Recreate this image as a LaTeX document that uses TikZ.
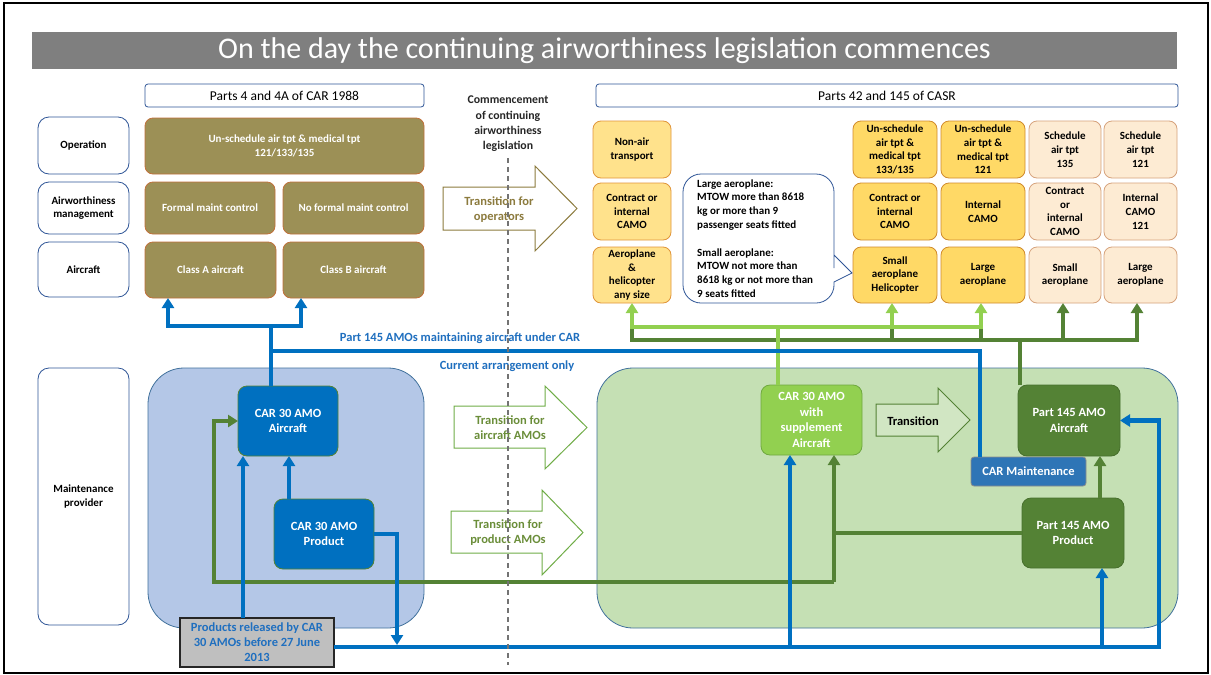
\documentclass[tikz,border=0pt]{standalone}
\usepackage{fontspec}
\setmainfont{Carlito}
\usetikzlibrary{arrows.meta,calc}
\definecolor{ttl}{HTML}{7F7F7F}
\definecolor{lblue}{HTML}{2F5597}
\definecolor{olv}{HTML}{9C9056}
\definecolor{olvb}{HTML}{C0703A}
\definecolor{nac}{HTML}{FFE28C}
\definecolor{nacb}{HTML}{E0953A}
\definecolor{abf}{HTML}{FFD966}
\definecolor{abb}{HTML}{D08A2B}
\definecolor{cdf}{HTML}{FDEBD3}
\definecolor{cdb}{HTML}{D6A27C}
\definecolor{bregf}{HTML}{B4C7E7}
\definecolor{gregf}{HTML}{C5E0B4}
\definecolor{regb}{HTML}{41719C}
\definecolor{cblue}{HTML}{0070C0}
\definecolor{lgr}{HTML}{92D050}
\definecolor{lgrb}{HTML}{6FA83F}
\definecolor{dgr}{HTML}{548235}
\definecolor{dgrb}{HTML}{476F2D}
\definecolor{cmaint}{HTML}{2E75B6}
\definecolor{optxt}{HTML}{8C7B3E}
\definecolor{amotxt}{HTML}{6B8E3A}
\definecolor{amob}{HTML}{70AD47}
\definecolor{labtxt}{HTML}{1F6FBF}
\newcommand\mybox[7]{\node[#6,minimum width={(#4-#2)*1pt},minimum height={(#5-#3)*1pt}] (#1) at ({(#2+#4)/2},{(#3+#5)/2}) {#7};}
\tikzset{
  base/.style={inner sep=0pt,outer sep=0pt,align=center,font=\fontsize{11}{13.7}\selectfont\bfseries,rounded corners=8pt,line width=0.8pt},
  lbl/.style={base,draw=lblue,fill=white,text=black,rounded corners=11pt},
  hdr/.style={base,draw=lblue,fill=white,text=black,rounded corners=3pt,font=\fontsize{13.5}{16}\selectfont},
  olvbox/.style={base,draw=olvb,fill=olv,text=white},
  nabox/.style={base,draw=nacb,fill=nac,text=black},
  abbox/.style={base,draw=abb,fill=abf,text=black},
  cdbox/.style={base,draw=cdb,fill=cdf,text=black},
  region/.style={base,draw=regb,rounded corners=36pt},
  mbox/.style={base,text=white,rounded corners=9pt,font=\fontsize{12.5}{15.5}\selectfont\bfseries},
  bl/.style={draw=cblue,line width=4.6pt},
  lg/.style={draw=lgr,line width=4.6pt},
  dg/.style={draw=dgr,line width=4.6pt},
  trarrow/.style={line width=1pt,fill=white,line join=miter},
  trtext/.style={align=center,font=\fontsize{12.5}{15}\selectfont\bfseries,inner sep=0pt}
}
\begin{document}
\begin{tikzpicture}[x=1pt,y=-1pt,>={Triangle[width=12pt,length=10pt]}]
\useasboundingbox (0,0) rectangle (1211,675);
\fill[white] (0,0) rectangle (1211,675);
\draw[line width=1.5pt,black] (4,3) rectangle (1208,673);
% title
\fill[ttl] (32,32) rectangle (1177,69);
\node[text=white,font=\fontsize{30}{34}\selectfont,inner sep=0pt] (title) at (604.5,50.5) {On the day the continuing airworthiness legislation commences};
% headers
\mybox{p4}{145}{84}{424}{107}{hdr}{Parts 4 and 4A of CAR 1988}
\mybox{p42}{596}{84}{1178}{107}{hdr}{Parts 42 and 145 of CASR}
% row labels
\mybox{opl}{38}{117}{129}{174}{lbl}{Operation}
\mybox{awl}{38}{182}{129}{234}{lbl}{Airworthiness\\management}
\mybox{acl}{38}{242}{129}{297}{lbl}{Aircraft}
\mybox{mpl}{38}{368}{129}{625}{lbl}{Maintenance\\provider}
% olive boxes
\mybox{unsch}{145}{118}{424}{174}{olvbox}{Un-schedule air tpt \& medical tpt\\121/133/135}
\mybox{fmc}{145}{182}{275}{234}{olvbox}{Formal maint control}
\mybox{nfmc}{283}{182}{424}{234}{olvbox}{No formal maint control}
\mybox{clsa}{145}{242}{276}{298}{olvbox}{Class A aircraft}
\mybox{clsb}{283}{242}{424}{298}{olvbox}{Class B aircraft}
% commencement
\node[align=center,font=\fontsize{11.8}{15.3}\selectfont\bfseries,text=black!85,inner sep=0pt] (comm) at (508,124) {Commencement\\of continuing\\airworthiness\\legislation};
% transition for operators
\draw[trarrow,draw=optxt] (443,187) -- (535,187) -- (535,166) -- (577,208.5) -- (535,251) -- (535,230) -- (443,230) -- cycle;
\node[trtext,text=optxt] (trop) at (499,210) {Transition for\\operators};
% right top boxes
\mybox{na1}{593}{121}{671}{178}{nabox}{Non-air\\transport}
\mybox{na2}{593}{183}{671}{240}{nabox}{Contract or\\internal\\CAMO}
\mybox{na3}{593}{247}{671}{303}{nabox}{Aeroplane\\\&\\helicopter\\any size}
\mybox{sa1}{853}{121}{937}{178}{abbox}{Un-schedule\\air tpt \&\\medical tpt\\133/135}
\mybox{sa2}{853}{183}{937}{240}{abbox}{Contract or\\internal\\CAMO}
\mybox{sa3}{853}{247}{937}{303}{abbox}{Small\\aeroplane\\Helicopter}
\mybox{sb1}{941}{121}{1025}{178}{abbox}{Un-schedule\\air tpt \&\\medical tpt\\121}
\mybox{sb2}{941}{183}{1025}{240}{abbox}{Internal\\CAMO}
\mybox{sb3}{941}{247}{1025}{303}{abbox}{Large\\aeroplane}
\mybox{sc1}{1029}{121}{1101}{178}{cdbox}{Schedule\\air tpt\\135}
\mybox{sc2}{1029}{183}{1101}{240}{cdbox}{Contract\\or\\internal\\CAMO}
\mybox{sc3}{1029}{247}{1101}{303}{cdbox}{Small\\aeroplane}
\mybox{sd1}{1104}{121}{1177}{178}{cdbox}{Schedule\\air tpt\\121}
\mybox{sd2}{1104}{183}{1177}{240}{cdbox}{Internal\\CAMO\\121}
\mybox{sd3}{1104}{247}{1177}{303}{cdbox}{Large\\aeroplane}
% callout
\draw[draw=lblue,fill=white,line width=0.8pt,rounded corners=18pt] (683,174) -- (834,174) -- (834,250) [sharp corners] -- (834,255) -- (852,273) -- (834,282) -- (834,287) [rounded corners=18pt] -- (834,303) -- (683,303) -- cycle;
\node[anchor=west,align=left,font=\fontsize{11}{13.8}\selectfont\bfseries,inner sep=0pt] (calltxt) at (697,238.5) {Large aeroplane:\\MTOW more than 8618\\kg or more than 9\\passenger seats fitted\\[13.8pt]Small aeroplane:\\MTOW not more than\\8618 kg or not more than\\9 seats fitted};
% regions
\mybox{breg}{148}{368}{424}{628}{region,fill=bregf}{}
\mybox{greg}{597}{368}{1178}{628}{region,fill=gregf}{}
% transition arrows for AMOs
\draw[trarrow,draw=amob] (454,406) -- (545,406) -- (545,386) -- (587,427.5) -- (545,469) -- (545,448) -- (454,448) -- cycle;
\node[trtext,text=amotxt] (tracft) at (510,428) {Transition for\\aircraft AMOs};
\draw[trarrow,draw=amob] (451,511) -- (542,511) -- (542,490) -- (583,532.5) -- (542,575) -- (542,553) -- (451,553) -- cycle;
\node[trtext,text=amotxt] (trprod) at (508,533) {Transition for\\product AMOs};
\draw[trarrow,draw=dgr,fill=gregf!80!white] (876,404) -- (938,404) -- (938,388) -- (970,420) -- (938,452) -- (938,436) -- (876,436) -- cycle;
\node[trtext,text=black] (trans) at (913,421) {Transition};
% maintenance boxes
\mybox{car30a}{238}{386}{338}{456}{mbox,fill=cblue,draw=dgr}{CAR 30 AMO\\Aircraft}
\mybox{car30p}{274}{499}{374}{569}{mbox,fill=cblue,draw=dgr}{CAR 30 AMO\\Product}
\mybox{car30s}{761}{385}{862}{455}{mbox,fill=lgr,draw=lgrb}{CAR 30 AMO\\with\\supplement\\Aircraft}
\mybox{p145a}{1018}{385}{1120}{456}{mbox,fill=dgr,draw=dgrb}{Part 145 AMO\\Aircraft}
\mybox{p145p}{1022}{498}{1124}{568}{mbox,fill=dgr,draw=dgrb}{Part 145 AMO\\Product}
\mybox{carm}{971}{457}{1086}{486}{mbox,fill=cmaint,draw=black!45,rounded corners=3pt}{CAR Maintenance}
\mybox{prod}{180}{618}{334}{667}{base,fill=black!25,draw=black!85,line width=1.2pt,rounded corners=0pt,text=labtxt,font=\fontsize{12.5}{15}\selectfont\bfseries}{Products released by CAR\\30 AMOs before 27 June\\2013}
% labels on blue line
\node[font=\fontsize{12.5}{15}\selectfont\bfseries,text=labtxt,inner sep=0pt] (lab145) at (460,338) {Part 145 AMOs maintaining aircraft under CAR};
\node[font=\fontsize{12.5}{15}\selectfont\bfseries,text=labtxt,inner sep=0pt] (labcur) at (507,366) {Current arrangement only};
% coordinates
\coordinate (gL) at (632,340);
\coordinate (gR) at (1137,340);
\coordinate (gc) at (1063,340);
\coordinate (gt) at (1020,340);
\coordinate (gB) at (892,340);
\coordinate (gC) at (981,340);
\coordinate (lgA) at (632,327);
\coordinate (lgB) at (892,327);
\coordinate (lgC) at (981,327);
\coordinate (lj) at (778,327);
\coordinate (g1) at (834,533);
\coordinate (g2) at (834,582);
\coordinate (g3) at (214,582);
\coordinate (g4) at (1100,500);
% dark green
\draw[dg,->] (lgA) -- (gL) -- (gR) -- (gR |- sd3.south);
\draw[dg,->] (gc) -- (gc |- sc3.south);
\draw[dg] (p145a.north -| gt) -- (gt);
\draw[dg] (gB) -- (lgB);
\draw[dg] (gC) -- (lgC);
\draw[dg] (p145p.west) -- (p145p.west -| g1);
\draw[dg,->] (g2) -- (g2 |- car30s.south);
\draw[dg,->] (g2) -- (g3) -- (g3 |- car30a.west) -- (car30a.west);
\draw[dg,->] (p145p.north -| g4) -- (p145a.south -| g4);
% light green
\draw[lg,<->] (lgA |- na3.south) -- (lgA) -- (lgC) -- (lgC |- sb3.south);
\draw[lg,->] (lgB) -- (lgB |- sa3.south);
\draw[lg] (car30s.north -| lj) -- (lj);
% blue
\coordinate (bj) at (271,326);
\coordinate (bja) at (168,326);
\coordinate (bjb) at (301,326);
\coordinate (bk) at (271,351);
\coordinate (bk2) at (980,351);
\coordinate (pu) at (243,618);
\coordinate (cu) at (289,499);
\coordinate (busL) at (334,647);
\coordinate (busR) at (1159,647);
\coordinate (bd) at (397,645);
\coordinate (bu1) at (790,647);
\coordinate (bu2) at (1102,647);
\draw[bl,<->] (bja |- clsa.south) -- (bja) -- (bjb) -- (bjb |- clsb.south);
\draw[bl] (bj |- car30a.north) -- (bj);
\draw[bl] (bk) -- (bk2) -- (bk2 |- carm.north);
\draw[bl,->] (prod.north -| pu) -- (car30a.south -| pu);
\draw[bl,->] (car30p.north -| cu) -- (car30a.south -| cu);
\draw[bl,->] (car30p.east) -- (car30p.east -| bd) -- (bd);
\draw[bl,->] (prod.east |- busL) -- (busR) -- (busR |- p145a.east) -- (p145a.east);
\draw[bl,->] (bu1) -- (bu1 |- car30s.south);
\draw[bl,->] (bu2) -- (bu2 |- p145p.south);
% dashed commencement line
\draw[draw=black!55,line width=1.2pt,dash pattern=on 5pt off 4pt] (508,158) -- (508,665);
\end{tikzpicture}
\end{document}
